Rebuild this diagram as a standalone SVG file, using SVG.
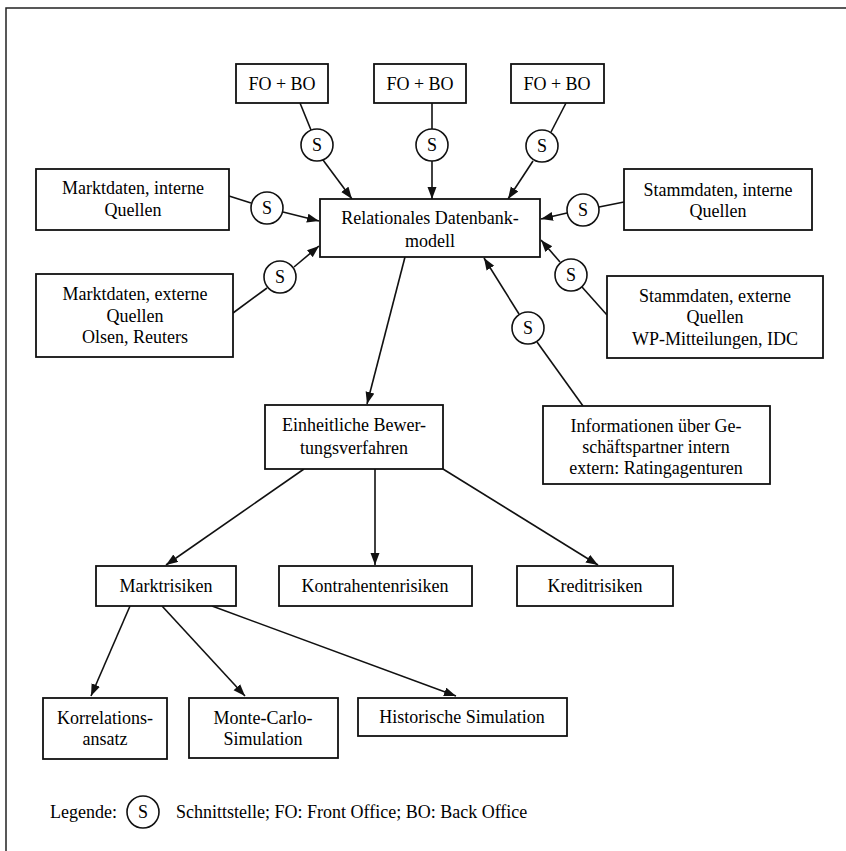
<svg xmlns="http://www.w3.org/2000/svg" width="846" height="851" viewBox="0 0 846 851">
<style>
text{font-family:"Liberation Serif","Times New Roman",serif;font-size:18px;fill:#000;text-anchor:middle}
.box{fill:#fff;stroke:#111;stroke-width:1.8}
.s{fill:#fff;stroke:#111;stroke-width:1.6}
.c{stroke:#111;stroke-width:1.6;fill:none}
.frame{stroke:#222;stroke-width:1.5;fill:none}
</style>
<defs>
<marker id="ah" markerWidth="13" markerHeight="10" refX="12" refY="4.5" orient="auto" markerUnits="userSpaceOnUse">
<path d="M0,0 L12,4.5 L0,9 z" fill="#111"/>
</marker>
</defs>
<rect width="846" height="851" fill="#fff"/>
<path class="frame" d="M6,851 V8 H846"/>

<g id="connectors">
<line class="c" x1="300" y1="103" x2="311" y2="130"/>
<line class="c" x1="323" y1="160" x2="352" y2="199" marker-end="url(#ah)"/>
<line class="c" x1="432" y1="103" x2="432" y2="129"/>
<line class="c" x1="432" y1="161" x2="432" y2="199" marker-end="url(#ah)"/>
<line class="c" x1="566" y1="103" x2="551" y2="132"/>
<line class="c" x1="533" y1="161" x2="508" y2="199" marker-end="url(#ah)"/>
<line class="c" x1="229" y1="196" x2="251" y2="203"/>
<line class="c" x1="283" y1="212" x2="319" y2="221" marker-end="url(#ah)"/>
<line class="c" x1="233" y1="313" x2="267" y2="288"/>
<line class="c" x1="294" y1="267" x2="319" y2="246" marker-end="url(#ah)"/>
<line class="c" x1="624" y1="202" x2="599" y2="207"/>
<line class="c" x1="567" y1="213" x2="541" y2="219" marker-end="url(#ah)"/>
<line class="c" x1="607" y1="315" x2="582" y2="287"/>
<line class="c" x1="560" y1="262" x2="541" y2="240" marker-end="url(#ah)"/>
<line class="c" x1="583" y1="406" x2="537" y2="342"/>
<line class="c" x1="519" y1="314" x2="484" y2="258" marker-end="url(#ah)"/>
<line class="c" x1="405" y1="257" x2="367" y2="404" marker-end="url(#ah)"/>
<line class="c" x1="304" y1="469" x2="166" y2="565" marker-end="url(#ah)"/>
<line class="c" x1="375" y1="469" x2="375" y2="565" marker-end="url(#ah)"/>
<line class="c" x1="443" y1="469" x2="598" y2="565" marker-end="url(#ah)"/>
<line class="c" x1="130" y1="606" x2="91" y2="696" marker-end="url(#ah)"/>
<line class="c" x1="162" y1="606" x2="245" y2="696" marker-end="url(#ah)"/>
<line class="c" x1="212" y1="606" x2="456" y2="696" marker-end="url(#ah)"/>
</g>

<g id="s1"><circle class="s" cx="317" cy="145" r="16"/><text x="317" y="151">S</text></g>
<g id="s2"><circle class="s" cx="432" cy="145" r="16"/><text x="432" y="151">S</text></g>
<g id="s3"><circle class="s" cx="542" cy="146" r="16"/><text x="542" y="152">S</text></g>
<g id="s4"><circle class="s" cx="267" cy="208" r="16"/><text x="267" y="214">S</text></g>
<g id="s5"><circle class="s" cx="280" cy="277" r="16"/><text x="280" y="283">S</text></g>
<g id="s6"><circle class="s" cx="583" cy="210" r="16"/><text x="583" y="216">S</text></g>
<g id="s7"><circle class="s" cx="571" cy="275" r="16"/><text x="571" y="281">S</text></g>
<g id="s8"><circle class="s" cx="528" cy="328" r="16"/><text x="528" y="334">S</text></g>

<g id="fobo1"><rect class="box" x="236" y="64" width="92" height="39"/><text x="282" y="90">FO + BO</text></g>
<g id="fobo2"><rect class="box" x="374" y="64" width="92" height="39"/><text x="420" y="90">FO + BO</text></g>
<g id="fobo3"><rect class="box" x="511" y="64" width="93" height="39"/><text x="557" y="90">FO + BO</text></g>

<g id="relational"><rect class="box" x="320" y="199" width="220" height="58"/>
<text x="430" y="224">Relationales Datenbank-</text><text x="430" y="247">modell</text></g>

<g id="markt-intern"><rect class="box" x="36" y="169" width="193" height="61"/>
<text x="133" y="194">Marktdaten, interne</text><text x="133" y="216">Quellen</text></g>

<g id="markt-extern"><rect class="box" x="36" y="274" width="197" height="83"/>
<text x="135" y="300">Marktdaten, externe</text><text x="135" y="322">Quellen</text><text x="135" y="343">Olsen, Reuters</text></g>

<g id="stamm-intern"><rect class="box" x="624" y="169" width="188" height="61"/>
<text x="718" y="196">Stammdaten, interne</text><text x="718" y="217">Quellen</text></g>

<g id="stamm-extern"><rect class="box" x="607" y="276" width="216" height="82"/>
<text x="715" y="302">Stammdaten, externe</text><text x="715" y="323">Quellen</text><text x="715" y="345">WP-Mitteilungen, IDC</text></g>

<g id="info"><rect class="box" x="543" y="406" width="227" height="78"/>
<text x="656" y="432">Informationen über Ge-</text><text x="656" y="453">schäftspartner intern</text><text x="656" y="474">extern: Ratingagenturen</text></g>

<g id="bewertung"><rect class="box" x="265" y="405" width="178" height="64"/>
<text x="354" y="431">Einheitliche Bewer-</text><text x="354" y="454">tungsverfahren</text></g>

<g id="marktrisiken"><rect class="box" x="96" y="566" width="140" height="40"/><text x="166" y="592">Marktrisiken</text></g>
<g id="kontrahenten"><rect class="box" x="279" y="566" width="193" height="40"/><text x="375" y="592">Kontrahentenrisiken</text></g>
<g id="kredit"><rect class="box" x="517" y="566" width="156" height="40"/><text x="595" y="592">Kreditrisiken</text></g>

<g id="korrelation"><rect class="box" x="43" y="698" width="124" height="61"/>
<text x="105" y="724">Korrelations-</text><text x="105" y="745">ansatz</text></g>
<g id="montecarlo"><rect class="box" x="189" y="698" width="149" height="60"/>
<text x="263" y="724">Monte-Carlo-</text><text x="263" y="745">Simulation</text></g>
<g id="historisch"><rect class="box" x="358" y="698" width="209" height="38"/>
<text x="462" y="723">Historische Simulation</text></g>

<g id="legend">
<text x="50" y="818" style="text-anchor:start">Legende:</text>
<circle class="s" cx="143" cy="812" r="16"/><text x="143" y="818">S</text>
<text x="176" y="818" style="text-anchor:start">Schnittstelle; FO: Front Office; BO: Back Office</text>
</g>
</svg>
